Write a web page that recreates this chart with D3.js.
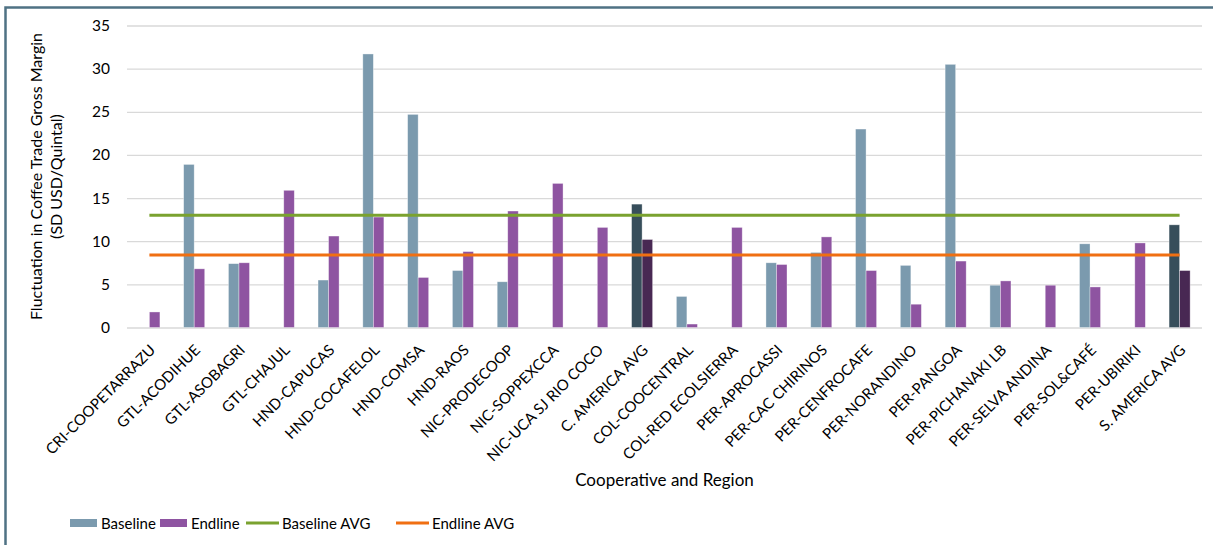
<!DOCTYPE html>
<html>
<head>
<meta charset="utf-8">
<script src="https://cdn.jsdelivr.net/npm/d3@7"></script>
<style>
  body { margin: 0; background: #fff; }
  svg text { font-family: Lato, "Liberation Sans", sans-serif; fill: #000; }
</style>
</head>
<body>
<script>
// chart data
var categories = ["CRI-COOPETARRAZU", "GTL-ACODIHUE", "GTL-ASOBAGRI", "GTL-CHAJUL", "HND-CAPUCAS",
  "HND-COCAFELOL", "HND-COMSA", "HND-RAOS", "NIC-PRODECOOP", "NIC-SOPPEXCCA", "NIC-UCA SJ RIO COCO",
  "C. AMERICA AVG", "COL-COOCENTRAL", "COL-RED ECOLSIERRA", "PER-APROCASSI", "PER-CAC CHIRINOS",
  "PER-CENFROCAFE", "PER-NORANDINO", "PER-PANGOA", "PER-PICHANAKI LB", "PER-SELVA ANDINA",
  "PER-SOL&CAFÉ", "PER-UBIRIKI", "S. AMERICA AVG"];
var baseline = [null, 18.9, 7.4, null, 5.5, 31.7, 24.7, 6.6, 5.3, null, null, 14.3,
  3.6, null, 7.5, 8.7, 23.0, 7.2, 30.5, 4.9, null, 9.7, null, 11.9];
var endline = [1.8, 6.8, 7.5, 15.9, 10.6, 12.8, 5.8, 8.8, 13.5, 16.7, 11.6, 10.2,
  0.4, 11.6, 7.3, 10.5, 6.6, 2.7, 7.7, 5.4, 4.9, 4.7, 9.8, 6.6];
var baselineAvg = 13.0;
var endlineAvg = 8.4;
var yTicks = [0, 5, 10, 15, 20, 25, 30, 35];
var avgCategories = ["C. AMERICA AVG", "S. AMERICA AVG"];
var seriesNames = ["Baseline", "Endline"];

var width = 1213, height = 545;
var plotL = 127, plotR = 1202, plotT = 25.5, plotB = 327.5;

var colors = { Baseline: "#7b9aae", Endline: "#8e54a1" };
var avgColors = { Baseline: "#374e5b", Endline: "#482853" };

var svg = d3.select("body").append("svg")
    .attr("width", width)
    .attr("height", height);

// outer frame (left and top edges only are visible)
svg.append("path")
    .attr("d", "M5.5,545 V7.5 H1213")
    .attr("fill", "none")
    .attr("stroke", "#4f7284")
    .attr("stroke-width", 2.5);

var x = d3.scaleBand().domain(categories).range([plotL, plotR]).padding(0);
var pairW = x.bandwidth() * 0.47;
var xs = d3.scaleBand().domain(seriesNames).range([-pairW / 2, pairW / 2]);
var y = d3.scaleLinear().domain([0, 35]).range([plotB, plotT]);

// gridlines + y labels
var yAxis = svg.append("g")
    .attr("transform", "translate(" + plotL + ",0)")
    .call(d3.axisLeft(y).tickValues(yTicks).tickSize(-(plotR - plotL)).tickPadding(17));
yAxis.select(".domain").remove();
yAxis.selectAll("line").attr("stroke", "#d9d9d9").attr("stroke-width", 1.3);
yAxis.selectAll("text").style("font-size", "15.5px").attr("fill", "#000");

// bars
var rows = categories.map(function (c, i) {
  return { cat: c, Baseline: baseline[i], Endline: endline[i] };
});
var groups = svg.append("g").selectAll("g")
    .data(rows)
    .enter().append("g")
    .attr("transform", function (d) { return "translate(" + (x(d.cat) + x.bandwidth() / 2) + ",0)"; });

groups.selectAll("rect")
    .data(function (d) {
      return seriesNames.filter(function (s) { return d[s] != null; })
        .map(function (s) { return { s: s, v: d[s], avg: avgCategories.indexOf(d.cat) >= 0 }; });
    })
    .enter().append("rect")
    .attr("x", function (d) { return xs(d.s); })
    .attr("width", xs.bandwidth())
    .attr("y", function (d) { return y(d.v); })
    .attr("height", function (d) { return y(0) - y(d.v); })
    .attr("fill", function (d) { return d.avg ? avgColors[d.s] : colors[d.s]; })
    .attr("stroke", "#ffffff")
    .attr("stroke-opacity", 0.5)
    .attr("stroke-width", 0.7);

// average lines
var x0 = x(categories[0]) + x.bandwidth() / 2;
var x1 = x(categories[categories.length - 1]) + x.bandwidth() / 2;
var avgLines = [
  { v: baselineAvg, c: "#7aa22f" },
  { v: endlineAvg, c: "#f06f12" }
];
svg.append("g").selectAll("line")
    .data(avgLines)
    .enter().append("line")
    .attr("x1", x0).attr("x2", x1)
    .attr("y1", function (d) { return y(d.v); })
    .attr("y2", function (d) { return y(d.v); })
    .attr("stroke", function (d) { return d.c; })
    .attr("stroke-width", 3);

// x labels
svg.append("g").selectAll("text")
    .data(categories)
    .enter().append("text")
    .attr("transform", function (d) { return "translate(" + (x(d) + x.bandwidth() / 2 + 7) + ",351) rotate(-45)"; })
    .attr("text-anchor", "end")
    .style("font-size", "15px")
    .text(function (d) { return d; });

// axis titles
svg.append("text")
    .attr("x", (plotL + plotR) / 2)
    .attr("y", 486)
    .attr("text-anchor", "middle")
    .style("font-size", "17px")
    .text("Cooperative and Region");

var yTitle = svg.append("text")
    .attr("transform", "translate(42," + (plotT + plotB) / 2 + ") rotate(-90)")
    .attr("text-anchor", "middle")
    .style("font-size", "16px");
yTitle.append("tspan").attr("x", 0).attr("y", 0).text("Fluctuation in Coffee Trade Gross Margin");
yTitle.append("tspan").attr("x", 0).attr("y", 20).text("(SD USD/Quintal)");

// legend
var legendItems = [
  { name: "Baseline", type: "rect", c: colors.Baseline, x: 70 },
  { name: "Endline", type: "rect", c: colors.Endline, x: 160 },
  { name: "Baseline AVG", type: "line", c: "#7aa22f", x: 246 },
  { name: "Endline AVG", type: "line", c: "#f06f12", x: 396 }
];
var ly = 523;
var legend = svg.append("g").selectAll("g")
    .data(legendItems)
    .enter().append("g")
    .attr("transform", function (d) { return "translate(" + d.x + "," + ly + ")"; });
legend.filter(function (d) { return d.type == "rect"; }).append("rect")
    .attr("x", 0).attr("y", -4).attr("width", 27).attr("height", 8)
    .attr("fill", function (d) { return d.c; });
legend.filter(function (d) { return d.type == "line"; }).append("line")
    .attr("x1", 0).attr("x2", 33).attr("y1", 0).attr("y2", 0)
    .attr("stroke", function (d) { return d.c; })
    .attr("stroke-width", 3);
legend.append("text")
    .attr("x", function (d) { return d.type == "rect" ? 31 : 36; })
    .attr("y", 5.5)
    .style("font-size", "15px")
    .text(function (d) { return d.name; });
</script>
</body>
</html>
